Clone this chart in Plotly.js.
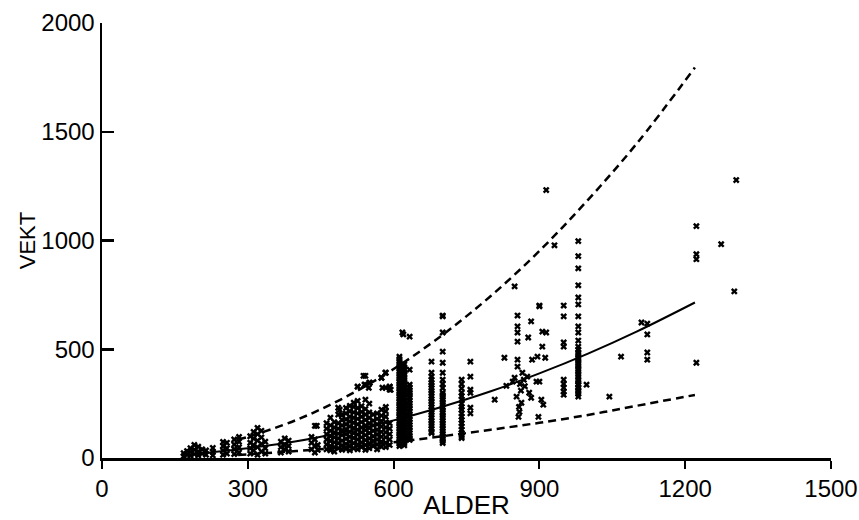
<!DOCTYPE html>
<html>
<head>
<meta charset="utf-8">
<script src="https://cdn.plot.ly/plotly-3.0.1.min.js"></script>
<style>
  html, body { margin: 0; padding: 0; background: #fff; }
  #chart { width: 859px; height: 520px; }
</style>
</head>
<body>
<div id="chart"></div>
<script>
// ---- Data (ALDER = age, VEKT = weight) ----

// Columns / small clusters: one age, several weights
const gruppeAlder = [
  168, 175, 182, 190, 198, 206, 214, 228, 249, 257, 272, 282,
  305, 312, 320, 328, 336, 368, 376, 384, 431, 438, 444,
  462, 470, 478, 486, 494, 502, 510, 518, 526, 534, 542, 550, 558, 566, 575, 584, 592,
  612, 622, 633, 678, 701, 740, 758, 950, 980, 1122, 1223
];
const gruppeVekt = [
  [8, 22], [15, 32], [10, 28, 45], [18, 38, 60], [12, 30, 52], [20, 40], [15, 35],
  [12, 28, 46], [15, 35, 55, 74], [20, 45, 70], [18, 40, 62, 85], [25, 50, 75, 97],
  [20, 45, 70, 100], [35, 60, 90, 120], [15, 50, 80, 110, 138], [30, 65, 95, 125], [20, 45, 75],
  [25, 50, 75], [40, 60, 90], [30, 55, 80], [40, 70, 97], [25, 55, 85, 148], [37, 60],
  [40, 62, 85, 110, 135, 160],
  [35, 55, 78, 100, 125, 150, 185],
  [30, 50, 72, 95, 118, 140, 165],
  [45, 68, 90, 112, 135, 160, 200, 231],
  [38, 58, 80, 105, 128, 150, 175, 198],
  [42, 65, 88, 110, 132, 155, 178, 205, 230],
  [35, 55, 75, 98, 120, 145, 168, 190, 215, 240],
  [45, 68, 92, 115, 138, 162, 185, 210, 235, 254],
  [40, 62, 85, 108, 130, 155, 180, 205, 230, 262, 328],
  [50, 72, 95, 118, 140, 165, 190, 212, 238],
  [38, 60, 82, 105, 128, 150, 175, 200, 225, 268, 337, 378],
  [45, 68, 90, 115, 138, 160, 185, 210, 250, 346],
  [55, 78, 100, 125, 150, 172, 200],
  [40, 62, 85, 108, 130, 155, 180, 205],
  [52, 75, 98, 120, 145, 170, 195, 222, 369],
  [50, 70, 95, 118, 140, 165, 190, 215, 235, 323, 392],
  [60, 85, 110, 135, 160, 314, 328],
  [466, 455, 444, 432, 421, 410, 398, 386, 375, 364, 352, 340, 329, 318, 306, 295, 284, 272, 260,
   249, 238, 226, 214, 203, 192, 180, 168, 157, 146, 134, 122, 111, 100, 88, 76, 65, 55],
  [430, 418, 406, 395, 383, 371, 360, 348, 336, 325, 313, 301, 290, 278, 266, 255, 243, 231, 220,
   208, 196, 185, 173, 161, 150, 138, 126, 115, 103, 92, 80, 68, 58],
  [406, 337, 325, 312, 300, 290, 278, 265, 252, 240, 228, 215, 203, 190, 178, 165, 152, 140, 128, 115, 103, 92, 83],
  [443, 392, 374, 360, 346, 335, 322, 310, 298, 285, 272, 260, 248, 235, 222, 210, 198, 185, 172, 160, 148, 135, 122, 115],
  [651, 577, 489, 438, 392, 360, 340, 322, 300, 290, 280, 268, 256, 245, 232, 220, 208, 196, 185, 172,
   160, 148, 136, 124, 112, 100, 88, 78, 69],
  [360, 340, 320, 300, 285, 268, 250, 235, 222, 205, 190, 175, 160, 145, 130, 115, 100, 92],
  [443, 374, 314, 300, 231, 205],
  [701, 651, 531, 512, 360, 340, 323, 305, 291],
  [997, 928, 872, 794, 738, 706, 651, 605, 577, 540, 512, 498, 485, 475, 462, 452, 440, 430, 420,
   408, 397, 385, 374, 360, 351, 340, 335, 323, 312, 305, 295, 282],
  [618, 568, 485, 452],
  [1066, 937, 914, 438]
];

// Single scattered points
const enkeltAlder = [
  442, 489, 493, 526, 538, 540, 549, 551, 575, 577, 583, 592, 594, 618, 620, 633, 701,
  808, 828, 832, 845, 849, 849, 853, 855, 855, 855, 855, 855, 855, 857, 858, 859, 860, 862,
  863, 865, 868, 870, 875, 877, 879, 883, 883, 885, 894, 896, 898, 900, 900, 900, 904, 906,
  906, 908, 912, 914, 914, 931, 997, 1044, 1068, 1110, 1274, 1301, 1305
];
const enkeltVekt = [
  148, 222, 198, 328, 378, 337, 323, 346, 369, 323, 392, 328, 314, 577, 568, 558, 655,
  268, 461, 332, 351, 369, 789, 282, 655, 605, 577, 535, 452, 420, 189, 235, 212, 340, 310,
  254, 392, 360, 330, 374, 554, 300, 628, 277, 452, 351, 466, 189, 697, 351, 701, 268, 581,
  512, 245, 461, 577, 1232, 978, 337, 282, 466, 623, 983, 766, 1278
];

// Fitted curves
const midtAlder  = [180, 300, 400, 500, 600, 700, 800, 900, 1000, 1100, 1220];
const midtVekt   = [16, 45, 77, 121, 173, 236, 307, 389, 480, 581, 715];
const ovreAlder  = [280, 300, 400, 500, 600, 700, 800, 900, 1000, 1100, 1220];
const ovreVekt   = [85, 97, 175, 279, 409, 565, 745, 952, 1187, 1445, 1795];
const nedreAlder = [280, 400, 500, 600, 700, 800, 900, 1000, 1100, 1220];
const nedreVekt  = [14, 32, 50, 72, 100, 130, 162, 198, 240, 290];

const xTicks = [0, 300, 600, 900, 1200, 1500];
const yTicks = [0, 500, 1000, 1500, 2000];

// ---- Build traces ----
const px = [], py = [];
gruppeAlder.forEach((a, i) => {
  gruppeVekt[i].forEach(v => { px.push(a); py.push(v); });
});
enkeltAlder.forEach((a, i) => { px.push(a); py.push(enkeltVekt[i]); });

const FONT = 'Liberation Sans, Arial, sans-serif';

const traces = [
  {
    x: px, y: py, type: 'scatter', mode: 'markers',
    marker: { symbol: 'x', size: 6, color: '#000', line: { width: 0 } },
    hoverinfo: 'x+y', showlegend: false
  },
  {
    x: midtAlder, y: midtVekt, type: 'scatter', mode: 'lines',
    line: { color: '#000', width: 2, shape: 'spline' }, showlegend: false
  },
  {
    x: ovreAlder, y: ovreVekt, type: 'scatter', mode: 'lines',
    line: { color: '#000', width: 2.5, dash: '8px,5px', shape: 'spline' }, showlegend: false
  },
  {
    x: nedreAlder, y: nedreVekt, type: 'scatter', mode: 'lines',
    line: { color: '#000', width: 2.5, dash: '8px,5px', shape: 'spline' }, showlegend: false
  }
];

const layout = {
  width: 859, height: 520,
  margin: { l: 102, r: 28, t: 23, b: 62 },
  paper_bgcolor: '#fff', plot_bgcolor: '#fff',
  font: { family: FONT, color: '#000' },
  showlegend: false,
  xaxis: {
    range: [0, 1500], tickvals: xTicks, ticktext: xTicks.map(String),
    showline: true, linecolor: '#000', linewidth: 2.5,
    ticks: 'outside', ticklen: 8, tickwidth: 2, tickcolor: '#000',
    showgrid: false, zeroline: false,
    tickfont: { size: 24, family: FONT, color: '#000' },
    title: { text: 'ALDER', font: { size: 26, family: FONT, color: '#000' }, standoff: 11 }
  },
  yaxis: {
    range: [0, 2000], tickvals: yTicks, ticktext: yTicks.map(String),
    showline: true, linecolor: '#000', linewidth: 2.5,
    ticks: 'inside', ticklen: 12, tickwidth: 2.5, tickcolor: '#000',
    showgrid: false, zeroline: false,
    tickfont: { size: 24, family: FONT, color: '#000' },
    title: { text: 'VEKT', font: { size: 22, family: FONT, color: '#000' }, standoff: 0 }
  }
};

Plotly.newPlot('chart', traces, layout, { displayModeBar: false, staticPlot: true });
</script>
</body>
</html>
